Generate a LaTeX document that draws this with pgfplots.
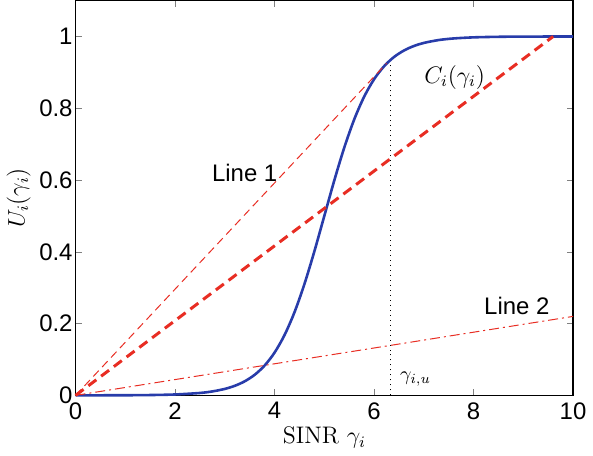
\documentclass[border=0pt]{standalone}
\usepackage{fontspec}
\setsansfont{Liberation Sans}
\usepackage{pgfplots}
\pgfplotsset{compat=1.18}
\definecolor{cblue}{RGB}{40,60,170}
\definecolor{cred}{RGB}{232,45,35}
\begin{document}
\begin{tikzpicture}
\begin{axis}[
  scale only axis, width=249.5pt, height=198pt,
  xmin=0, xmax=10, ymin=0, ymax=1.1,
  xtick={0,2,4,6,8,10}, ytick={0,0.2,0.4,0.6,0.8,1},
  tick align=inside, major tick length=3pt,
  tick label style={font=\large\sffamily},
  yticklabel style={xshift=2pt},
  /pgf/number format/assume math mode=true,
  label style={font=\large},
  xlabel={SINR $\gamma_i$}, ylabel={$U_i(\gamma_i)$},
  xlabel style={yshift=3pt},
  ylabel style={yshift=-2.5pt},
  axis line style={line width=0.6pt},
  clip=false,
]
\addplot[cblue, line width=1.3pt, smooth] coordinates {
(0,0.000045) (1,0.000335) (1.5,0.000911) (2,0.00247) (2.5,0.00669) (2.75,0.01099)
(3,0.01799) (3.2,0.0266) (3.4,0.03917) (3.6,0.05732) (3.8,0.08317) (4,0.1192)
(4.2,0.16798) (4.4,0.23148) (4.6,0.31003) (4.8,0.40131) (5,0.5) (5.2,0.59869)
(5.4,0.68997) (5.6,0.76852) (5.8,0.83202) (6,0.8808) (6.2,0.91683) (6.4,0.94268)
(6.6,0.96083) (6.8,0.9734) (7,0.98201) (7.3,0.99005) (7.6,0.99451) (8,0.99753)
(8.5,0.99909) (9,0.99966) (10,0.99995)};
\addplot[cred, line width=0.5pt, dash pattern=on 4pt off 2.5pt] coordinates {(0,0) (6.25,0.925)};
\addplot[cred, line width=1.5pt, dash pattern=on 5pt off 3pt] coordinates {(0,0) (9.6,1.0)};
\addplot[cred, line width=0.5pt, dash pattern=on 5pt off 2pt on 1pt off 2pt] coordinates {(0,0) (10,0.22)};
\addplot[black, line width=0.4pt, dash pattern=on 0.5pt off 2pt] coordinates {(6.32,0) (6.32,0.93)};
\node[font=\large\sffamily] at (axis cs:3.4,0.62) {Line 1};
\node[font=\large] at (axis cs:7.62,0.886) {$C_i(\gamma_i)$};
\node[font=\large\sffamily] at (axis cs:8.87,0.25) {Line 2};
\node[anchor=west] at (axis cs:6.38,0.045) {$\gamma_{i,u}$};
\end{axis}
\end{tikzpicture}
\end{document}
